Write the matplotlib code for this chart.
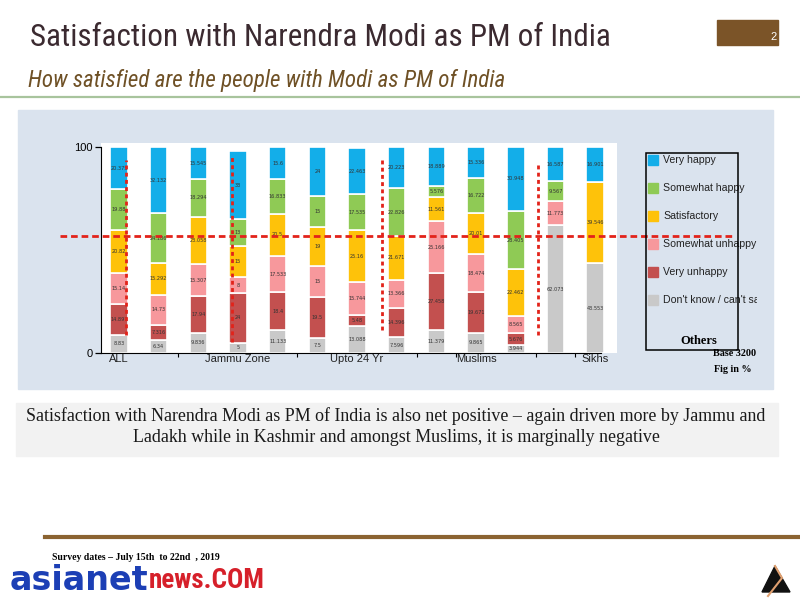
import matplotlib
matplotlib.use("Agg")
import matplotlib.pyplot as plt
from matplotlib.patches import Rectangle, Polygon
from matplotlib.lines import Line2D
from matplotlib import font_manager
import numpy as np

# ---- data ----
categories = ["ALL", "", "", "Jammu Zone", "", "", "Upto 24 Yr", "", "", "Muslims", "", "", "Sikhs"]
series = ["Very happy", "Somewhat happy", "Satisfactory", "Somewhat unhappy", "Very unhappy", "Don't know / can't say"]
colors = ["#13aee9", "#8fca55", "#fec20a", "#f7989c", "#c3504f", "#c9c9c9"]

dont_know = [8.83, 6.34, 9.836, 5, 11.133, 7.5, 13.088, 7.596, 11.379, 9.865, 3.944, 62.073, 43.553]
very_unhappy = [14.897, 7.316, 17.94, 24, 18.4, 19.5, 5.48, 14.396, 27.458, 19.671, 5.676, 0, 0]
somewhat_unhappy = [15.14, 14.73, 15.307, 8, 17.533, 15, 15.744, 13.366, 25.166, 18.474, 8.565, 11.773, 0]
satisfactory = [20.82, 15.292, 23.058, 15, 20.5, 19, 25.16, 21.671, 11.561, 20.01, 22.462, 0, 39.546]
somewhat_happy = [19.88, 24.186, 18.294, 13, 16.833, 15, 17.535, 22.826, 5.576, 16.722, 28.405, 9.567, 0]
very_happy = [20.375, 32.132, 15.545, 33, 15.6, 24, 22.463, 20.223, 18.889, 15.336, 30.948, 16.587, 16.901]

# bottom-to-top stacking order
stack = [dont_know, very_unhappy, somewhat_unhappy, satisfactory, somewhat_happy, very_happy]
stack_colors = colors[::-1]

# red dashed guide lines (x in category units, y in %)
hline_y = 57
vlines = [(0.18, 8.7, 93.7), (2.84, 5.3, 95.1), (6.62, 11.2, 93.7), (10.55, 8.7, 91.3)]

W, H = 800, 599


def fx(x):
    return x / W


def fy(y):
    return 1 - y / H


# pick a condensed face if one is installed
names = {f.name for f in font_manager.fontManager.ttflist}
narrow = None
for cand in ["Liberation Sans Narrow", "DejaVu Sans Condensed", "Roboto Condensed", "Open Sans Condensed"]:
    if cand in names:
        narrow = cand
        break
if narrow is None:
    narrow_kw = dict(family="DejaVu Sans", stretch="condensed")
    title_size, sub_size = 19.5, 15
else:
    narrow_kw = dict(family=narrow)
    title_size, sub_size = 22.4, 16.6
sans = "Liberation Sans"
serif = "Liberation Serif"

fig = plt.figure(figsize=(8, 5.99), dpi=100, facecolor="white")

# slide title + subtitle
fig.text(fx(30), fy(38), "Satisfaction with Narendra Modi as PM of India",
         fontsize=title_size, color="#3b2a30", va="center", ha="left", **narrow_kw)
fig.text(fx(28), fy(80), "How satisfied are the people with Modi as PM of India",
         fontsize=sub_size, style="italic", color="#6f5126", va="center", ha="left", **narrow_kw)
fig.add_artist(Line2D([0, 1], [fy(97), fy(97)], color="#a8c49d", lw=1.6))
fig.add_artist(Rectangle((fx(717), fy(45)), fx(61), 25 / H, color="#7b5428"))
fig.text(fx(777), fy(37), "2", color="white", fontsize=8, ha="right", va="center", family=sans)

# chart panel
fig.add_artist(Rectangle((fx(18), fy(389)), fx(755), 279 / H, color="#dae3ee", zorder=0))

ax = fig.add_axes([fx(101), fy(353), fx(516), (353 - 143) / H])
ax.set_facecolor("white")
x = np.arange(len(categories))
bottom = np.zeros(len(categories))
for vals, col in zip(stack, stack_colors):
    vals = np.array(vals, dtype=float)
    ax.bar(x, vals, 0.44, bottom=bottom, color=col, edgecolor="white", linewidth=1.2, zorder=2)
    for xi, b, v in zip(x, bottom, vals):
        if v > 0:
            ax.text(xi, b + v / 2, f"{v:g}", ha="center", va="center", fontsize=3.6, color="#333333", zorder=3)
    bottom += vals

ax.set_xlim(-0.45, 12.55)
ax.set_ylim(0, (353 - 143) / 2.06)
for s in ["top", "right"]:
    ax.spines[s].set_visible(False)
ax.spines["left"].set_bounds(0, 100)
ax.spines["bottom"].set_bounds(-0.45, 12.15)
ax.set_yticks([0, 100])
ax.set_yticklabels(["0", "100"], fontsize=8, family=sans)
ax.tick_params(axis="y", length=4, width=0.9, pad=2)
ax.set_xticks(x)
ax.set_xticklabels(categories, fontsize=8, color="#222222", family=sans)
ax.tick_params(axis="x", length=0, pad=1)
ax.set_xticks([1.5, 4.5, 7.5, 8.5, 10.5, 11.5], minor=True)
ax.tick_params(axis="x", which="minor", length=3, width=0.8)

dash = dict(color="#e2231a", lw=2.0, clip_on=False, zorder=5)
ax.plot([-1.49, 15.5], [hline_y, hline_y], linestyle=(0, (2.4, 1.4)), **dash)
for vx, y0, y1 in vlines:
    ax.plot([vx, vx], [y0, y1], linestyle=(0, (1.4, 1.2)), **dash)

# legend, drawn in pixel units and clipped at the right like the original
lax = fig.add_axes([fx(645), fy(350), fx(112), 200 / H])
lax.set_xlim(645, 757)
lax.set_ylim(350, 150)
lax.axis("off")
for i, (name, col) in enumerate(zip(series, colors)):
    yy = 160 + 28 * i
    lax.add_patch(Rectangle((648, yy - 5), 10, 10, color=col, clip_on=True))
    lax.text(663, yy, name, fontsize=7.6, family=sans, color="#222222", va="center", ha="left", clip_on=True)
fig.add_artist(Rectangle((fx(646), fy(350)), fx(92), 197 / H, fill=False, ec="black", lw=1.1, zorder=6))
fig.text(fx(699), fy(341), "Others", family=serif, weight="bold", fontsize=9, ha="center", va="center")
fig.text(fx(756), fy(353), "Base 3200", family=serif, weight="bold", fontsize=7.3, ha="right", va="center")
fig.text(fx(752), fy(369), "Fig in %", family=serif, weight="bold", fontsize=7.3, ha="right", va="center")

# takeaway box
fig.add_artist(Rectangle((fx(16), fy(456)), fx(762), 53 / H, color="#f2f2f2", zorder=0))
fig.text(0.495, fy(416), "Satisfaction with Narendra Modi as PM of India is also net positive \u2013 again driven more by Jammu and",
         family=serif, fontsize=12.9, ha="center", va="center", color="#1a1a1a")
fig.text(0.495, fy(438), "Ladakh while in Kashmir and amongst Muslims, it is marginally negative",
         family=serif, fontsize=12.9, ha="center", va="center", color="#1a1a1a")

# footer
fig.add_artist(Line2D([fx(45), 1], [fy(537), fy(537)], color="#8b6331", lw=3))
fig.text(fx(52), fy(558), "Survey dates \u2013 July 15th  to 22nd  , 2019", family=serif, weight="bold",
         fontsize=7, ha="left", va="center")
t1 = fig.text(fx(10), fy(580), "asianet", fontsize=24, weight="heavy", color="#1c3fb5", ha="left", va="center",
              family="DejaVu Sans")
fig.canvas.draw()
bb = t1.get_window_extent(fig.canvas.get_renderer())
fig.text(bb.x1 / W, fy(580), "news.COM", fontsize=19.5, weight="bold", color="#d6202a", ha="left", va="center",
         **narrow_kw)

# small corner logo
fig.add_artist(Polygon([[fx(775), fy(566)], [fx(790), fy(592)], [fx(762), fy(592)]], closed=True,
                       color="#111111"))
fig.add_artist(Line2D([fx(768), fx(782), fx(775)], [fy(596), fy(578), fy(566)], color="#e0a070", lw=1.5))

fig.savefig("out.png", dpi=100)
